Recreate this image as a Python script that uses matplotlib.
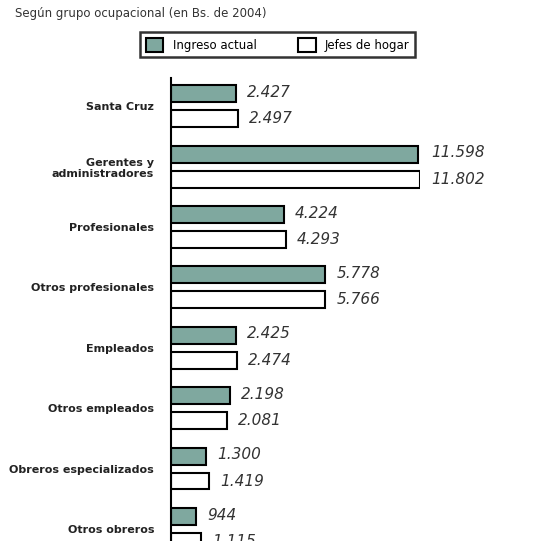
import matplotlib.pyplot as plt
import numpy as np

# datos
grupos = ["Santa Cruz", "Gerentes y\nadministradores", "Profesionales",
          "Otros profesionales", "Empleados", "Otros empleados",
          "Obreros especializados", "Otros obreros"]
serie_a = [2.427, 11.598, 4.224, 5.778, 2.425, 2.198, 1.300, 944]
serie_b = [2.497, 11.802, 4.293, 5.766, 2.474, 2.081, 1.419, 1.115]
etiquetas_a = ["2.427", "11.598", "4.224", "5.778", "2.425", "2.198", "1.300", "944"]
etiquetas_b = ["2.497", "11.802", "4.293", "5.766", "2.474", "2.081", "1.419", "1.115"]
nombre_a = "Ingreso actual"
nombre_b = "Jefes de hogar"
titulo = "Según grupo ocupacional (en Bs. de 2004)"

# 944 esta en Bs, los demas en miles
serie_a = np.array([v / 1000 if v > 100 else v for v in serie_a])
serie_b = np.array([v / 1000 if v > 100 else v for v in serie_b])

fig = plt.figure(figsize=(5.34, 5.41), dpi=100)
ax = fig.add_axes([0.320, 0.0, 0.466, 0.856])

y = np.arange(len(grupos))
h = 0.28
off = 0.207
xmax = 9.3

# el eje llega hasta xmax: las barras mas largas se cortan en el borde
ax.barh(y - off, np.minimum(serie_a, xmax - 0.05), height=h, color="#7fa89f",
        edgecolor="black", lw=1.5, label=nombre_a)
ax.barh(y + off, np.minimum(serie_b, xmax), height=h, color="white",
        edgecolor="black", lw=1.5, label=nombre_b)

# etiquetas de valor
for i in range(len(grupos)):
    ax.annotate(etiquetas_a[i], xy=(min(serie_a[i], xmax), y[i] - off), xytext=(8, 1),
                textcoords="offset points", va="center", ha="left", fontsize=11,
                style="italic", color="#333333", annotation_clip=False)
    ax.annotate(etiquetas_b[i], xy=(min(serie_b[i], xmax), y[i] + off), xytext=(8, 0),
                textcoords="offset points", va="center", ha="left", fontsize=11,
                style="italic", color="#333333", annotation_clip=False)

ax.set_xlim(0, xmax)
ax.set_ylim(7.2, -0.47)
ax.set_yticks(y)
ax.set_yticklabels(grupos, fontsize=8, fontweight="bold", color="#222222")
ax.tick_params(axis="y", length=0, pad=12)
ax.set_xticks([])
for s in ["top", "right", "bottom"]:
    ax.spines[s].set_visible(False)
ax.spines["left"].set_linewidth(1.5)

fig.text(0.028, 0.975, titulo, fontsize=8.5, color="#333333", va="center")

fig.legend(loc="center", bbox_to_anchor=(0.52, 0.917), ncol=2, fontsize=8.5,
           frameon=True, fancybox=False, edgecolor="black", handlelength=1.5,
           handleheight=1.5, columnspacing=3.5, borderpad=0.45, handletextpad=0.8)
fig.legends[0].get_frame().set_linewidth(1.8)

plt.savefig("out.png", dpi=100)
